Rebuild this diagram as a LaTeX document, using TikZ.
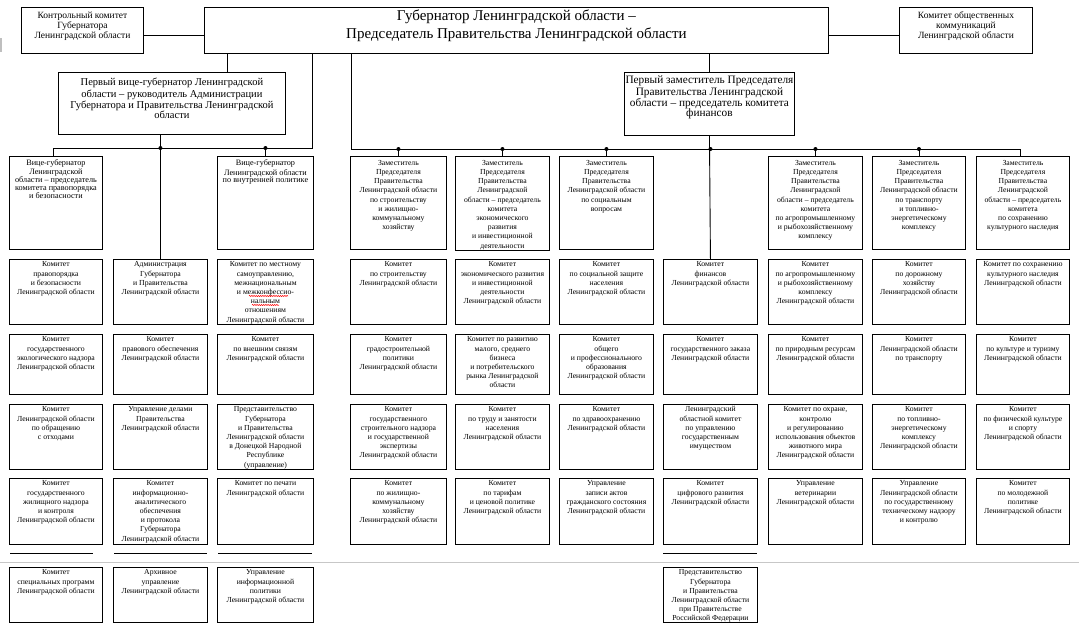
\documentclass[tikz,border=0pt]{standalone}
\usepackage{fontspec}
\setmainfont{Liberation Serif}
\usetikzlibrary{decorations.pathmorphing}
\newcommand\fzSmall{\fontsize{7.7}{9.2}\selectfont\vspace*{1pt}}
\newcommand\fzSmallA{\fontsize{7.7}{9.2}\selectfont\vspace*{2.5pt}}
\newcommand\fzCond{\fontsize{8.2}{7.9}\selectfont\vspace*{3.5pt}}
\newcommand\fzMid{\fontsize{10.5}{10.5}\selectfont\vspace*{6pt}}
\newcommand\fzFin{\fontsize{11.3}{10.4}\selectfont\vspace*{3pt}}
\newcommand\fzCtl{\fontsize{9.5}{10}\selectfont\vspace*{4pt}}
\newcommand\fzBig{\fontsize{15}{18}\selectfont\vspace*{0pt}}
\newcommand\bx[7]{\node[box,anchor=north west] (#1) at (#2,#3) {\parbox[t][\dimexpr#5pt-#3pt\relax][t]{\dimexpr#4pt-#2pt\relax}{\centering#6\strut#7\par}};}
\tikzset{
  box/.style={draw=black, line width=0.9pt, inner sep=0pt, fill=white},
  conn/.style={draw=black, line width=0.9pt},
  jdot/.style={fill=black},
  pagebreak/.style={draw=black!22, line width=1pt},
  sepline/.style={draw=black, line width=0.9pt},
  spell/.style={draw=red, line width=0.5pt, decorate, decoration={snake, segment length=2.2pt, amplitude=0.6pt}}
}
\begin{document}
\begin{tikzpicture}[x=1pt,y=-1pt]
\useasboundingbox (0,0) rectangle (1079,632);
% top level
\bx{ctl}{21}{7}{143}{53}{\fzCtl}{Контрольный комитет\\Губернатора\\Ленинградской области}
\bx{gov}{204}{7}{828}{53}{\fzBig}{Губернатор Ленинградской области –\\Председатель Правительства Ленинградской области}
\bx{pub}{899}{7}{1032}{53}{\fzCtl}{Комитет общественных\\коммуникаций\\Ленинградской области}
\bx{fv}{58}{72}{285}{134}{\fzMid}{Первый вице-губернатор Ленинградской\\области – руководитель Администрации\\Губернатора и Правительства Ленинградской\\области}
\bx{fin}{624}{72}{794}{135}{\fzFin}{Первый заместитель Председателя\\Правительства Ленинградской\\области – председатель комитета\\финансов}
% row 1
\bx{v1}{9}{156}{102}{249}{\fzCond}{Вице-губернатор\\Ленинградской\\области – председатель\\комитета правопорядка\\и безопасности}
\bx{v3}{217}{156}{313}{249}{\fzCond}{Вице-губернатор\\Ленинградской области\\по внутренней политике}
\bx{v4}{350}{156}{446}{249}{\fzSmallA}{Заместитель\\Председателя\\Правительства\\Ленинградской области\\по строительству\\и жилищно-\\коммунальному\\хозяйству}
\bx{v5}{455}{156}{549}{250}{\fzSmallA}{Заместитель\\Председателя\\Правительства\\Ленинградской\\области – председатель\\комитета\\экономического\\развития\\и инвестиционной\\деятельности}
\bx{v6}{559}{156}{653}{249}{\fzSmallA}{Заместитель\\Председателя\\Правительства\\Ленинградской области\\по социальным\\вопросам}
\bx{v8}{768}{156}{862}{249}{\fzSmallA}{Заместитель\\Председателя\\Правительства\\Ленинградской\\области – председатель\\комитета\\по агропромышленному\\и рыбохозяйственному\\комплексу}
\bx{v9}{872}{156}{965}{249}{\fzSmallA}{Заместитель\\Председателя\\Правительства\\Ленинградской области\\по транспорту\\и топливно-\\энергетическому\\комплексу}
\bx{v10}{976}{156}{1069}{249}{\fzSmallA}{Заместитель\\Председателя\\Правительства\\Ленинградской\\области – председатель\\комитета\\по сохранению\\культурного наследия}
% row 2
\bx{a1}{9}{259}{102}{324}{\fzSmall}{Комитет\\правопорядка\\и безопасности\\Ленинградской области}
\bx{a2}{113}{259}{207}{324}{\fzSmall}{Администрация\\Губернатора\\и Правительства\\Ленинградской области}
\bx{a3}{217}{259}{313}{324}{\fzSmall}{Комитет по местному\\самоуправлению,\\межнациональным\\и межконфессио-\\нальным\\отношениям\\Ленинградской области}
\bx{a4}{350}{259}{446}{324}{\fzSmall}{Комитет\\по строительству\\Ленинградской области}
\bx{a5}{455}{259}{549}{324}{\fzSmall}{Комитет\\экономического развития\\и инвестиционной\\деятельности\\Ленинградской области}
\bx{a6}{559}{259}{653}{324}{\fzSmall}{Комитет\\по социальной защите\\населения\\Ленинградской области}
\bx{a7}{663}{259}{757}{324}{\fzSmall}{Комитет\\финансов\\Ленинградской области}
\bx{a8}{768}{259}{862}{324}{\fzSmall}{Комитет\\по агропромышленному\\и рыбохозяйственному\\комплексу\\Ленинградской области}
\bx{a9}{872}{259}{965}{324}{\fzSmall}{Комитет\\по дорожному\\хозяйству\\Ленинградской области}
\bx{a10}{976}{259}{1069}{324}{\fzSmall}{Комитет по сохранению\\культурного наследия\\Ленинградской области}
% row 3
\bx{b1}{9}{334}{102}{394}{\fzSmall}{Комитет\\государственного\\экологического надзора\\Ленинградской области}
\bx{b2}{113}{334}{207}{394}{\fzSmall}{Комитет\\правового обеспечения\\Ленинградской области}
\bx{b3}{217}{334}{313}{394}{\fzSmall}{Комитет\\по внешним связям\\Ленинградской области}
\bx{b4}{350}{334}{446}{394}{\fzSmall}{Комитет\\градостроительной\\политики\\Ленинградской области}
\bx{b5}{455}{334}{549}{394}{\fzSmall}{Комитет по развитию\\малого, среднего\\бизнеса\\и потребительского\\рынка Ленинградской\\области}
\bx{b6}{559}{334}{653}{394}{\fzSmall}{Комитет\\общего\\и профессионального\\образования\\Ленинградской области}
\bx{b7}{663}{334}{757}{394}{\fzSmall}{Комитет\\государственного заказа\\Ленинградской области}
\bx{b8}{768}{334}{862}{394}{\fzSmall}{Комитет\\по природным ресурсам\\Ленинградской области}
\bx{b9}{872}{334}{965}{394}{\fzSmall}{Комитет\\Ленинградской области\\по транспорту}
\bx{b10}{976}{334}{1069}{394}{\fzSmall}{Комитет\\по культуре и туризму\\Ленинградской области}
% row 4
\bx{c1}{9}{404}{102}{469}{\fzSmall}{Комитет\\Ленинградской области\\по обращению\\с отходами}
\bx{c2}{113}{404}{207}{469}{\fzSmall}{Управление делами\\Правительства\\Ленинградской области}
\bx{c3}{217}{404}{313}{469}{\fzSmall}{Представительство\\Губернатора\\и Правительства\\Ленинградской области\\в Донецкой Народной\\Республике\\(управление)}
\bx{c4}{350}{404}{446}{469}{\fzSmall}{Комитет\\государственного\\строительного надзора\\и государственной\\экспертизы\\Ленинградской области}
\bx{c5}{455}{404}{549}{469}{\fzSmall}{Комитет\\по труду и занятости\\населения\\Ленинградской области}
\bx{c6}{559}{404}{653}{469}{\fzSmall}{Комитет\\по здравоохранению\\Ленинградской области}
\bx{c7}{663}{404}{757}{469}{\fzSmall}{Ленинградский\\областной комитет\\по управлению\\государственным\\имуществом}
\bx{c8}{768}{404}{862}{469}{\fzSmall}{Комитет по охране,\\контролю\\и регулированию\\использования объектов\\животного мира\\Ленинградской области}
\bx{c9}{872}{404}{965}{469}{\fzSmall}{Комитет\\по топливно-\\энергетическому\\комплексу\\Ленинградской области}
\bx{c10}{976}{404}{1069}{469}{\fzSmall}{Комитет\\по физической культуре\\и спорту\\Ленинградской области}
% row 5
\bx{d1}{9}{478}{102}{544}{\fzSmall}{Комитет\\государственного\\жилищного надзора\\и контроля\\Ленинградской области}
\bx{d2}{113}{478}{207}{544}{\fzSmall}{Комитет\\информационно-\\аналитического\\обеспечения\\и протокола\\Губернатора\\Ленинградской области}
\bx{d3}{217}{478}{313}{544}{\fzSmall}{Комитет по печати\\Ленинградской области}
\bx{d4}{350}{478}{446}{544}{\fzSmall}{Комитет\\по жилищно-\\коммунальному\\хозяйству\\Ленинградской области}
\bx{d5}{455}{478}{549}{544}{\fzSmall}{Комитет\\по тарифам\\и ценовой политике\\Ленинградской области}
\bx{d6}{559}{478}{653}{544}{\fzSmall}{Управление\\записи актов\\гражданского состояния\\Ленинградской области}
\bx{d7}{663}{478}{757}{544}{\fzSmall}{Комитет\\цифрового развития\\Ленинградской области}
\bx{d8}{768}{478}{862}{544}{\fzSmall}{Управление\\ветеринарии\\Ленинградской области}
\bx{d9}{872}{478}{965}{544}{\fzSmall}{Управление\\Ленинградской области\\по государственному\\техническому надзору\\и контролю}
\bx{d10}{976}{478}{1069}{544}{\fzSmall}{Комитет\\по молодежной\\политике\\Ленинградской области}
% row 6
\bx{e1}{9}{567}{102}{622}{\fzSmall}{Комитет\\специальных программ\\Ленинградской области}
\bx{e2}{113}{567}{207}{622}{\fzSmall}{Архивное\\управление\\Ленинградской области}
\bx{e3}{217}{567}{313}{622}{\fzSmall}{Управление\\информационной\\политики\\Ленинградской области}
\bx{e7}{663}{567}{757}{622}{\fzSmall}{Представительство\\Губернатора\\и Правительства\\Ленинградской области\\при Правительстве\\Российской Федерации}
% separators
\draw[pagebreak] (0,562) -- (1079,562);
\draw[sepline] (10,553) -- (93,553);
\draw[sepline] (114,553) -- (207,553);
\draw[sepline] (218,553) -- (312,553);
\draw[sepline] (663,553) -- (757,553);
\draw[draw=black!25, line width=1.2pt] (1,38) -- (1,52);
% spell-check marks
\draw[spell] (249,296) -- (288,296);
\draw[spell] (252,305) -- (279,305);
% connectors
\coordinate (lb) at (312,148);
\coordinate (rb) at (351,149);
\draw[conn] ([yshift=-5pt]ctl.east) -- ([yshift=-5pt]ctl.east -| gov.west);
\draw[conn] ([yshift=-5pt]gov.east) -- ([yshift=-5pt]gov.east -| pub.west);
\draw[conn] ([xshift=55.5pt]fv.north) -- ([xshift=55.5pt]fv.north |- gov.south);
\draw[conn] (gov.south -| lb) -- (lb) -- ([xshift=-2.5pt]lb -| v1.north) -- ([xshift=-2.5pt]v1.north);
\draw[conn] (a2.north |- fv.south) -- (a2.north);
\draw[conn] (v3.north |- lb) -- (v3.north);
\fill[jdot] (a2.north |- lb) circle (2pt);
\fill[jdot] (v3.north |- lb) circle (2pt);
\draw[conn] (gov.south -| rb) -- (rb) -- ([xshift=-2.5pt]rb -| v10.north) -- ([xshift=-2.5pt]v10.north);
\draw[conn] (gov.south -| fin.north) -- (fin.north);
\draw[conn] (fin.south) -- (a7.north);
\foreach \n in {v4,v5,v6,v8,v9}{
  \draw[conn] (\n.north |- rb) -- (\n.north);
  \fill[jdot] (\n.north |- rb) circle (2pt);
}
\fill[jdot] (a7.north |- rb) circle (2pt);
\end{tikzpicture}
\end{document}
